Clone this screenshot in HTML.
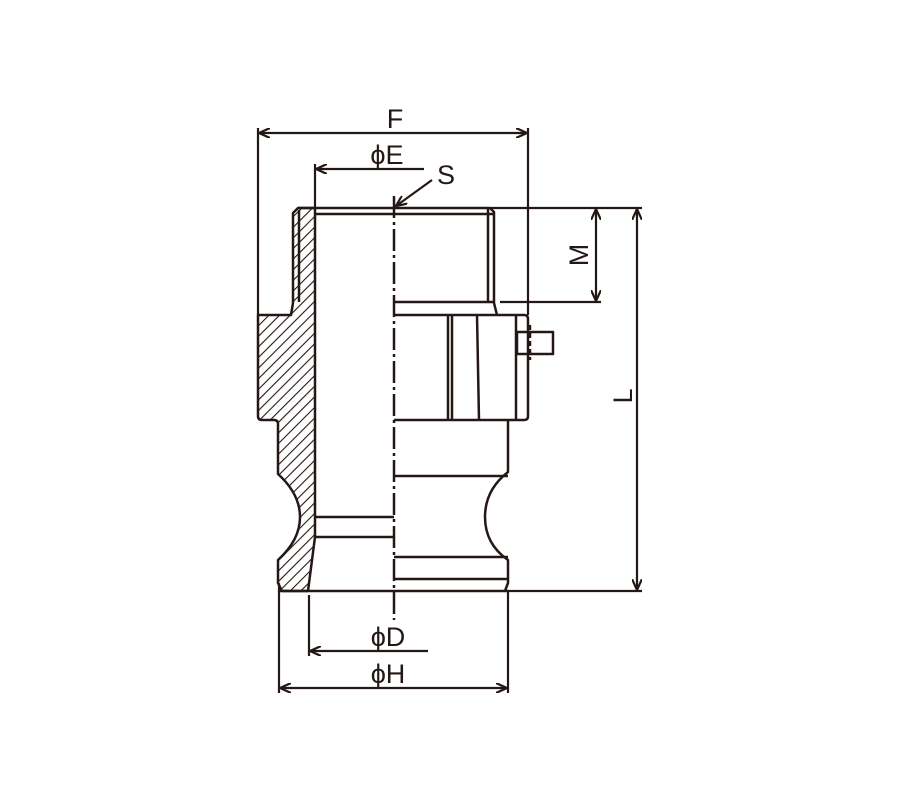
<!DOCTYPE html>
<html><head><meta charset="utf-8"><style>html,body{margin:0;padding:0;background:#fff}svg{display:block}</style></head>
<body>
<svg width="900" height="800" viewBox="0 0 900 800" xmlns="http://www.w3.org/2000/svg">
<defs>
<pattern id="h" patternUnits="userSpaceOnUse" width="7.5" height="7.5" patternTransform="rotate(45)">
<line x1="0" y1="0" x2="0" y2="7.5" stroke="#231815" stroke-width="2.2"/>
</pattern>
<marker id="a" markerWidth="12" markerHeight="10" refX="11" refY="5" orient="auto-start-reverse" markerUnits="userSpaceOnUse">
<path d="M0,0 L11,5 L0,10" fill="none" stroke="#231815" stroke-width="2.2"/>
</marker>
</defs>
<g stroke="#231815" stroke-width="2.5" fill="none" stroke-linejoin="round">
<path d="M298,208 L315,208 L315,537 L308,591 L282,591 L278,583 L278,560 Q300,540 300,517 Q300,494 278,474 L278,424 Q278,420 274,420 L262,420 Q258,420 258,416 L258,315 L291,315 L293,303 L293,213 Z" fill="url(#h)"/>
<line x1="299" y1="210" x2="299" y2="302"/>
<line x1="298" y1="208" x2="490" y2="208"/>
<line x1="315" y1="214" x2="494" y2="214"/>
<line x1="488" y1="208" x2="488" y2="302"/>
<path d="M490,208 L494,212 L494,303 L497,315"/>
<line x1="394" y1="302" x2="494" y2="302"/>
<path d="M394,315 L524,315 Q528,315 528,319 L528,416 Q528,420 524,420 L394,420"/>
<line x1="516" y1="315" x2="516" y2="420"/>
<line x1="448" y1="315" x2="448" y2="420"/>
<line x1="452" y1="315" x2="452" y2="420"/>
<line x1="477" y1="315" x2="479" y2="420"/>
<rect x="517" y="332" width="36" height="22"/>
<line x1="530" y1="325" x2="530" y2="360" stroke-dasharray="5,3"/>
<path d="M508,420 L508,472 Q485,490 485,517 Q485,544 508,560 L508,583 L505,591"/>
<line x1="394" y1="476" x2="508" y2="476"/>
<line x1="394" y1="557" x2="508" y2="557"/>
<line x1="394" y1="579" x2="508" y2="579"/>
<line x1="280" y1="591" x2="508" y2="591"/>
<line x1="315" y1="517" x2="394" y2="517"/>
<line x1="315" y1="537" x2="394" y2="537"/>
</g>
<line x1="394" y1="196" x2="394" y2="620" stroke="#231815" stroke-width="2.5" stroke-dasharray="22,4,3,4"/>
<g stroke="#231815" stroke-width="2.2" fill="none">
<line x1="258" y1="128" x2="258" y2="315"/>
<line x1="528" y1="128" x2="528" y2="315"/>
<line x1="259" y1="133" x2="527" y2="133" marker-start="url(#a)" marker-end="url(#a)"/>
<line x1="315" y1="164" x2="315" y2="208"/>
<line x1="316" y1="169" x2="424" y2="169" marker-start="url(#a)"/>
<line x1="432" y1="180" x2="396" y2="206" marker-end="url(#a)"/>
<line x1="490" y1="208" x2="642" y2="208"/>
<line x1="500" y1="302" x2="601" y2="302"/>
<line x1="596" y1="209" x2="596" y2="301" marker-start="url(#a)" marker-end="url(#a)"/>
<line x1="637" y1="209" x2="637" y2="590" marker-start="url(#a)" marker-end="url(#a)"/>
<line x1="508" y1="591" x2="642" y2="591"/>
<line x1="309" y1="595" x2="309" y2="656"/>
<line x1="310" y1="651" x2="428" y2="651" marker-start="url(#a)"/>
<line x1="279" y1="583" x2="279" y2="693"/>
<line x1="508" y1="591" x2="508" y2="693"/>
<line x1="280" y1="688" x2="507" y2="688" marker-start="url(#a)" marker-end="url(#a)"/>
</g>
<g font-family="Liberation Sans, sans-serif" font-size="27" fill="#231815">
<text x="395" y="128" text-anchor="middle">F</text>
<text x="387" y="164" text-anchor="middle">ϕE</text>
<text x="446" y="184" text-anchor="middle">S</text>
<text x="388" y="646" text-anchor="middle">ϕD</text>
<text x="388" y="683" text-anchor="middle">ϕH</text>
<text transform="translate(588,255) rotate(-90)" text-anchor="middle">M</text>
<text transform="translate(632,396) rotate(-90)" text-anchor="middle">L</text>
</g>
</svg>
</body></html>
